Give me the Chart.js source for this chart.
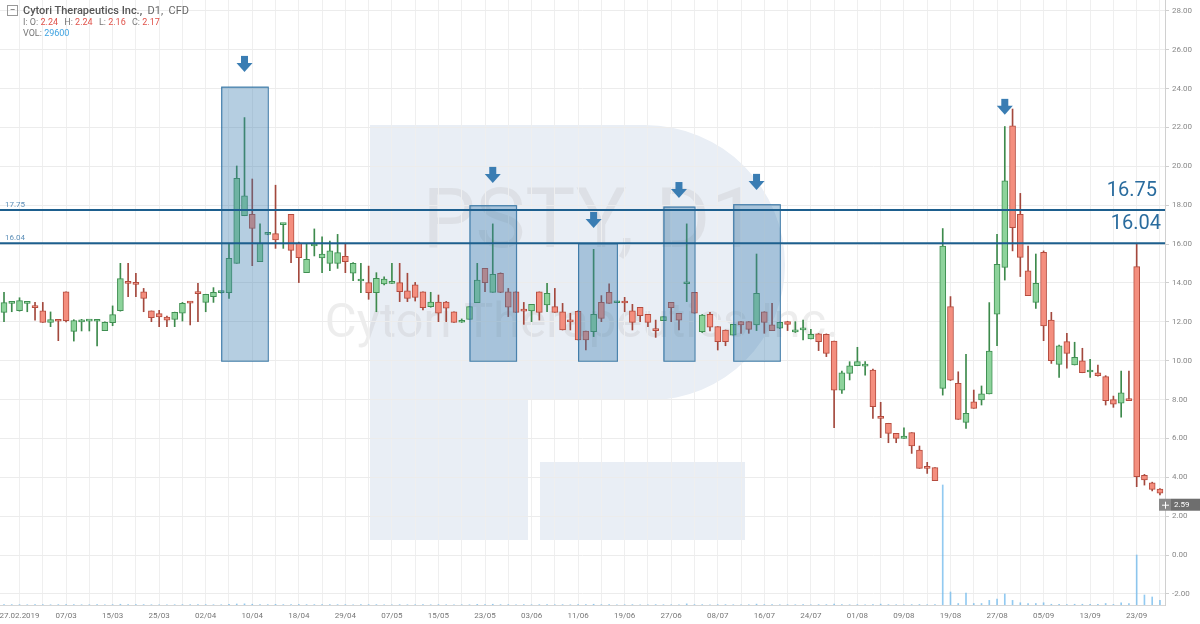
<!DOCTYPE html>
<html>
<head>
<meta charset="utf-8">
<script src="https://cdn.jsdelivr.net/npm/chart.js@4.4.1/dist/chart.umd.min.js"></script>
<style>
  html, body { margin: 0; padding: 0; background: #fff; }
  #wrap { position: relative; width: 1200px; height: 624px; font-family: Roboto, "Open Sans", sans-serif; }
  #hdr { position: absolute; left: 7px; top: 4px; color: #666; }
  #hdr .row1 { font-size: 11px; height: 13px; line-height: 13px; white-space: nowrap; }
  #hdr .sq { display: inline-block; width: 9px; height: 9px; border: 1px solid #999; line-height: 7px; text-align: center; font-size: 10px; color: #666; margin-right: 5px; vertical-align: 1px; }
  #hdr .nm { font-weight: 500; color: #555; }
  #hdr .row2, #hdr .row3 { font-size: 9px; margin-left: 16px; height: 11px; line-height: 11px; color: #777; white-space: nowrap; }
  #hdr .r { color: #e0524a; margin-right: 4px; }
  #hdr .b { color: #3ea2e0; }
</style>
</head>
<body>
<div id="wrap">
  <canvas id="chart" width="1200" height="624"></canvas>
  <div id="hdr">
    <div class="row1"><span class="sq">&minus;</span><span class="nm">Cytori Therapeutics Inc.,</span>&nbsp; D1,&nbsp; CFD</div>
    <div class="row2">I: O: <span class="r">2.24</span> H: <span class="r">2.24</span> L: <span class="r">2.16</span> C: <span class="r">2.17</span></div>
    <div class="row3">VOL: <span class="b">29600</span></div>
  </div>
</div>
<script>
// daily candles, index 0 = 25.02.2019
const opens = [
  12.49, 12.95, 12.57, 12.95, 12.82, 12.56, 11.97, 12.08, 13.55, 11.51,
  12.00, 12.04, 12.03, 11.55, 11.96, 12.57, 14.03, 14.03, 13.54, 12.56,
  12.42, 12.25, 12.13, 12.44, 13.03, 13.50, 13.00, 13.30, 13.50, 13.50,
  15.01, 17.46, 17.53, 15.10, 16.50, 16.54, 17.00, 17.53, 16.04, 14.53,
  15.90, 15.29, 15.01, 15.01, 15.37, 14.50, 14.10, 14.02, 13.50, 13.95,
  13.98, 14.02, 13.59, 13.90, 13.54, 12.78, 13.02, 13.02, 12.52, 11.98,
  12.13, 12.99, 14.75, 13.52, 14.50, 13.54, 13.54, 12.60, 12.56, 13.54,
  12.87, 12.78, 12.52, 12.05, 12.54, 11.53, 11.49, 13.00, 13.52, 12.98,
  13.02, 12.56, 12.75, 12.39, 11.60, 12.06, 13.00, 12.44, 13.96, 13.52,
  11.49, 12.39, 11.75, 11.58, 11.32, 12.01, 12.01, 11.84, 12.52, 11.84,
  11.67, 12.01, 11.48, 11.59, 11.12, 11.38, 11.36, 11.01, 8.49, 9.35,
  9.74, 9.72, 9.52, 7.08, 6.78, 6.26, 6.00, 6.30, 5.40, 4.52,
  4.50, 8.58, 12.78, 8.84, 6.83, 7.89, 7.98, 8.29, 12.39, 14.80,
  22.08, 17.53, 14.62, 13.00, 15.58, 12.09, 9.81, 10.98, 9.78, 10.00,
  9.42, 9.38, 9.18, 8.00, 7.81, 8.00, 14.84, 4.10, 3.72, 3.40
];
const highs = [
  13.52, 13.00, 13.24, 12.99, 13.00, 13.00, 12.51, 12.08, 13.55, 12.11,
  12.13, 12.06, 12.08, 12.00, 12.82, 15.01, 15.01, 14.50, 13.72, 12.56,
  12.59, 12.30, 12.50, 13.00, 13.03, 13.98, 13.42, 13.76, 13.56, 16.04,
  20.02, 22.51, 19.35, 17.04, 16.58, 19.03, 17.07, 17.53, 16.10, 16.04,
  16.78, 16.38, 16.16, 16.50, 16.04, 15.05, 15.01, 14.87, 14.53, 14.32,
  15.01, 15.01, 14.50, 14.03, 13.54, 13.52, 13.38, 13.05, 12.52, 12.15,
  12.80, 15.01, 14.75, 17.04, 14.52, 13.72, 13.54, 13.00, 12.90, 13.54,
  13.98, 13.72, 12.95, 12.44, 12.56, 11.53, 15.73, 13.35, 13.95, 13.02,
  13.26, 12.90, 12.75, 12.39, 12.09, 12.27, 13.00, 12.44, 17.04, 13.52,
  12.38, 12.49, 11.75, 11.58, 11.87, 12.01, 12.01, 15.49, 12.52, 12.95,
  11.99, 12.03, 12.01, 12.09, 11.61, 11.40, 11.38, 11.01, 9.47, 9.95,
  10.69, 9.95, 9.57, 7.86, 6.78, 6.26, 6.55, 6.30, 5.61, 4.77,
  4.50, 16.80, 13.30, 9.43, 10.33, 8.49, 8.70, 12.99, 16.50, 22.05,
  22.95, 18.61, 15.90, 15.49, 15.65, 12.49, 10.80, 11.41, 10.95, 10.64,
  10.07, 9.78, 9.23, 8.18, 9.47, 9.47, 16.04, 4.15, 3.75, 3.42
];
const lows = [
  12.01, 12.52, 12.55, 12.52, 12.09, 11.97, 11.75, 11.03, 12.00, 11.01,
  11.53, 11.53, 10.76, 11.55, 11.80, 12.55, 13.30, 13.30, 12.52, 12.01,
  11.75, 11.75, 11.75, 12.04, 11.84, 12.01, 12.52, 13.00, 13.48, 13.21,
  15.01, 17.46, 14.89, 15.10, 16.48, 15.78, 15.78, 15.05, 14.02, 14.53,
  15.39, 14.53, 14.63, 14.75, 14.53, 14.12, 13.50, 13.16, 12.52, 13.90,
  13.98, 13.04, 13.04, 13.07, 12.61, 12.75, 12.01, 12.01, 11.97, 11.97,
  12.13, 12.99, 13.55, 13.52, 13.50, 12.27, 12.49, 11.87, 12.01, 12.09,
  12.52, 12.49, 11.58, 11.58, 11.07, 10.55, 11.24, 12.01, 12.95, 12.98,
  12.52, 11.58, 12.01, 11.75, 11.20, 12.06, 12.01, 11.58, 13.04, 12.44,
  11.45, 11.53, 10.55, 10.77, 11.32, 11.41, 11.41, 11.55, 11.41, 11.55,
  11.65, 11.55, 11.45, 11.07, 11.12, 10.52, 10.21, 6.55, 8.32, 9.01,
  9.74, 9.26, 7.03, 6.04, 5.78, 5.78, 6.00, 5.23, 4.46, 4.20,
  3.83, 8.23, 8.98, 6.98, 6.52, 7.55, 7.72, 8.29, 10.77, 14.15,
  15.65, 14.33, 13.35, 12.69, 11.03, 9.86, 9.14, 9.61, 9.78, 9.38,
  9.14, 9.20, 7.72, 7.60, 7.09, 7.94, 3.52, 3.60, 3.30, 3.10
];
const closes = [
  12.99, 12.99, 13.09, 12.98, 12.73, 11.97, 12.11, 12.03, 12.06, 12.06,
  12.05, 12.06, 12.05, 11.97, 12.37, 14.22, 13.98, 13.93, 13.21, 12.21,
  12.25, 12.08, 12.49, 12.95, 12.96, 13.45, 13.42, 13.52, 13.54, 15.27,
  19.39, 18.49, 16.81, 16.04, 16.55, 16.21, 17.05, 15.68, 15.30, 15.22,
  16.00, 15.49, 15.66, 15.56, 15.10, 15.01, 14.14, 13.50, 14.24, 14.20,
  14.02, 13.55, 13.21, 13.26, 12.73, 13.02, 12.44, 12.70, 11.97, 12.02,
  12.78, 14.15, 14.02, 14.44, 13.52, 12.75, 12.49, 12.55, 12.90, 12.49,
  13.47, 12.49, 11.58, 12.00, 11.07, 11.07, 12.39, 12.18, 12.95, 13.02,
  12.97, 11.97, 12.32, 11.97, 11.55, 12.27, 12.73, 12.09, 14.00, 12.44,
  12.35, 11.73, 10.98, 10.98, 11.87, 11.84, 11.61, 13.47, 11.97, 11.55,
  11.97, 11.87, 11.52, 11.63, 11.36, 10.98, 10.38, 8.49, 9.38, 9.74,
  9.95, 9.76, 7.63, 7.03, 6.26, 6.00, 6.12, 5.61, 4.46, 4.46,
  3.83, 15.90, 9.00, 6.98, 7.29, 7.55, 8.29, 10.50, 14.96, 19.25,
  16.85, 15.32, 13.35, 13.98, 11.79, 10.00, 10.77, 10.38, 10.17, 9.38,
  9.45, 9.23, 7.94, 7.77, 8.35, 7.95, 4.03, 3.86, 3.38, 3.18
];
// volume (shares); only the last weeks show visible bars
const volumes = [
  4000, 3000, 3000, 2000, 3000, 3000, 2000, 3000, 4000, 3000,
  2000, 2000, 3000, 2000, 3000, 6000, 4000, 3000, 3000, 2000,
  2000, 2000, 2000, 3000, 3000, 3000, 3000, 2000, 2000, 5000,
  8000, 9000, 6000, 4000, 3000, 5000, 3000, 4000, 4000, 3000,
  3000, 3000, 3000, 3000, 3000, 2000, 3000, 3000, 3000, 2000,
  2000, 3000, 2000, 2000, 3000, 2000, 3000, 2000, 2000, 2000,
  2000, 5000, 3000, 6000, 3000, 3000, 2000, 3000, 2000, 3000,
  3000, 2000, 3000, 2000, 3000, 3000, 6000, 3000, 3000, 2000,
  2000, 3000, 2000, 2000, 3000, 2000, 2000, 2000, 9000, 3000,
  3000, 2000, 3000, 3000, 2000, 2000, 2000, 7000, 3000, 3000,
  2000, 2000, 2000, 3000, 2000, 3000, 3000, 7000, 3000, 2000,
  3000, 2000, 4000, 7000, 3000, 2000, 2000, 3000, 4000, 2000,
  3000, 960000, 104000, 12000, 96000, 12000, 12000, 37000, 48000, 88000,
  37000, 18000, 12000, 12000, 18000, 6000, 6000, 4000, 6000, 6000,
  6000, 6000, 12000, 4000, 18000, 12000, 400000, 80000, 64000, 37000
];
const tickLabels = ['27.02.2019', '07/03', '15/03', '25/03', '02/04', '10/04', '18/04', '29/04', '07/05', '15/05',
  '23/05', '03/06', '11/06', '19/06', '27/06', '08/07', '16/07', '24/07', '01/08', '09/08',
  '19/08', '27/08', '05/09', '13/09', '23/09'];
const firstLabelIdx = 2;
const priceTicks = [-2, 0, 2, 4, 6, 8, 10, 12, 14, 16, 18, 20, 22, 24, 26, 28];
const levels = [17.75, 16.04];
const levelTags = ['16.75', '16.04'];
// highlighted zones: [from index, to index, top, bottom]
const zones = [[28, 34, 24.1, 10], [60, 66, 18.0, 10], [74, 79, 16.04, 10], [85, 89, 17.93, 10], [94, 100, 18.05, 10]];
// arrow tips: [index, price]
const arrows = [[31, 24.86], [63, 19.15], [76, 16.83], [87, 18.37], [97, 18.79], [129, 22.65]];
const lastPrice = 2.59;

const up = closes.map((c, i) => c >= opens[i]);
const wickData = lows.map((l, i) => ({ x: i, y: [l, highs[i]] }));
const bodyData = opens.map((o, i) => ({ x: i, y: [Math.min(o, closes[i]), Math.max(o, closes[i])] }));
const volData = volumes.map((v, i) => ({ x: i, y: v }));

const watermark = {
  id: 'watermark',
  beforeDraw(chart) {
    const ctx = chart.ctx;
    ctx.save();
    ctx.fillStyle = '#e9eef5';
    ctx.fillRect(370, 125, 158, 415);
    ctx.beginPath();
    ctx.moveTo(528, 125);
    ctx.lineTo(640, 125);
    ctx.arcTo(785, 125, 785, 260, 140);
    ctx.lineTo(785, 270);
    ctx.arcTo(785, 400, 650, 400, 135);
    ctx.lineTo(528, 400);
    ctx.closePath();
    ctx.fill();
    ctx.fillRect(540, 462, 205, 78);
    ctx.fillStyle = 'rgba(190,190,190,0.28)';
    ctx.font = '84px Roboto';
    ctx.textAlign = 'center';
    ctx.textBaseline = 'middle';
    ctx.fillText('PSTY, D1', 590, 226);
    ctx.font = '49px Roboto';
    ctx.fillText('Cytori Therapeutics Inc.', 582, 325);
    ctx.restore();
  }
};

const overlays = {
  id: 'overlays',
  afterDatasetsDraw(chart) {
    const ctx = chart.ctx, x = chart.scales.x, y = chart.scales.y;
    const area = chart.chartArea;
    ctx.save();
    zones.forEach(z => {
      const x0 = x.getPixelForValue(z[0]), x1 = x.getPixelForValue(z[1]);
      const y0 = y.getPixelForValue(z[2]), y1 = y.getPixelForValue(z[3]);
      ctx.fillStyle = 'rgba(60,125,175,0.38)';
      ctx.fillRect(x0, y0, x1 - x0, y1 - y0);
      ctx.strokeStyle = 'rgba(45,110,160,0.85)';
      ctx.lineWidth = 1.2;
      ctx.strokeRect(x0 + 0.5, y0 + 0.5, x1 - x0, y1 - y0);
    });
    levels.forEach((lv, k) => {
      const py = y.getPixelForValue(lv);
      ctx.strokeStyle = '#1d5f8e';
      ctx.lineWidth = 2;
      ctx.beginPath();
      ctx.moveTo(area.left, py);
      ctx.lineTo(area.right, py);
      ctx.stroke();
      ctx.fillStyle = '#5d8fb8';
      ctx.font = '8px Roboto';
      ctx.textAlign = 'left';
      ctx.textBaseline = 'bottom';
      ctx.fillText(lv.toFixed(2), 5, py - 1);
      ctx.fillStyle = '#2a6c9e';
      ctx.font = '20px Roboto';
      ctx.textAlign = 'right';
      ctx.textBaseline = 'bottom';
      ctx.fillText(levelTags[k], area.right - 8 + k * 4, py - 9);
    });
    ctx.fillStyle = '#3a7db3';
    arrows.forEach(a => {
      const px = x.getPixelForValue(a[0]), py = y.getPixelForValue(a[1]);
      ctx.fillRect(px - 3.5, py - 16, 7, 8);
      ctx.beginPath();
      ctx.moveTo(px - 8, py - 9);
      ctx.lineTo(px + 8, py - 9);
      ctx.lineTo(px, py);
      ctx.closePath();
      ctx.fill();
    });
    // last price tag on the axis
    const ly = y.getPixelForValue(lastPrice);
    ctx.fillStyle = '#6e6e6e';
    ctx.fillRect(area.right + 6, ly - 6, 35, 12);
    ctx.fillStyle = '#8a8a8a';
    ctx.fillRect(area.right - 6, ly - 6, 12, 12);
    ctx.strokeStyle = '#fff';
    ctx.lineWidth = 1;
    ctx.beginPath();
    ctx.moveTo(area.right - 3, ly + 0.5); ctx.lineTo(area.right + 4, ly + 0.5);
    ctx.moveTo(area.right + 0.5, ly - 3); ctx.lineTo(area.right + 0.5, ly + 4);
    ctx.stroke();
    ctx.fillStyle = '#fff';
    ctx.font = '8px Roboto';
    ctx.textAlign = 'left';
    ctx.textBaseline = 'middle';
    ctx.fillText(lastPrice.toFixed(2), area.right + 9, ly + 0.5);
    ctx.restore();
  }
};

new Chart(document.getElementById('chart').getContext('2d'), {
  type: 'bar',
  data: {
    datasets: [
      {
        label: 'Volume',
        data: volData,
        yAxisID: 'yVol',
        backgroundColor: 'rgba(100,180,235,0.7)',
        barThickness: 1,
        grouped: false,
        order: 3
      },
      {
        label: 'Wick',
        data: wickData,
        backgroundColor: up.map(u => u ? '#3d8a4c' : '#a3483d'),
        barThickness: 1,
        grouped: false,
        order: 2
      },
      {
        label: 'Body',
        data: bodyData,
        backgroundColor: up.map(u => u ? '#8dd39b' : '#f48e7e'),
        borderColor: up.map(u => u ? '#3f8f52' : '#b54c3f'),
        borderWidth: 1,
        borderSkipped: false,
        barThickness: 6,
        minBarLength: 2,
        grouped: false,
        order: 1
      }
    ]
  },
  options: {
    responsive: false,
    animation: false,
    layout: { padding: 0 },
    scales: {
      x: {
        type: 'linear',
        offset: false,
        min: -0.516,
        max: 149.65,
        grid: { color: '#efefef', drawTicks: false, offset: false },
        border: { color: '#d6d6d6' },
        afterBuildTicks: s => {
          const t = [];
          for (let v = firstLabelIdx; v < 150; v += 3) t.push({ value: v });
          s.ticks = t;
        },
        afterFit: s => { s.height = 19; s.paddingLeft = 0; s.paddingRight = 0; },
        ticks: {
          autoSkip: false,
          maxRotation: 0,
          padding: 6,
          color: '#777',
          font: { size: 8, family: 'Roboto' },
          callback: v => {
            const k = (v - firstLabelIdx) / 6;
            return Number.isInteger(k) ? (tickLabels[k] || '') : '';
          }
        }
      },
      y: {
        position: 'right',
        min: -2.57,
        max: 28.56,
        grid: { color: '#ececec', tickLength: 4, tickColor: '#cfcfcf' },
        border: { color: '#d0d0d0' },
        afterBuildTicks: s => { s.ticks = priceTicks.map(v => ({ value: v })); },
        afterFit: s => { s.width = 35; s.paddingTop = 0; s.paddingBottom = 0; },
        ticks: {
          padding: 3,
          color: '#888',
          font: { size: 8, family: 'Roboto' },
          callback: v => v.toFixed(2)
        }
      },
      yVol: {
        display: false,
        min: 0,
        max: 4840000
      }
    },
    plugins: {
      legend: { display: false },
      tooltip: { enabled: false }
    }
  },
  plugins: [watermark, overlays]
});
</script>
</body>
</html>
